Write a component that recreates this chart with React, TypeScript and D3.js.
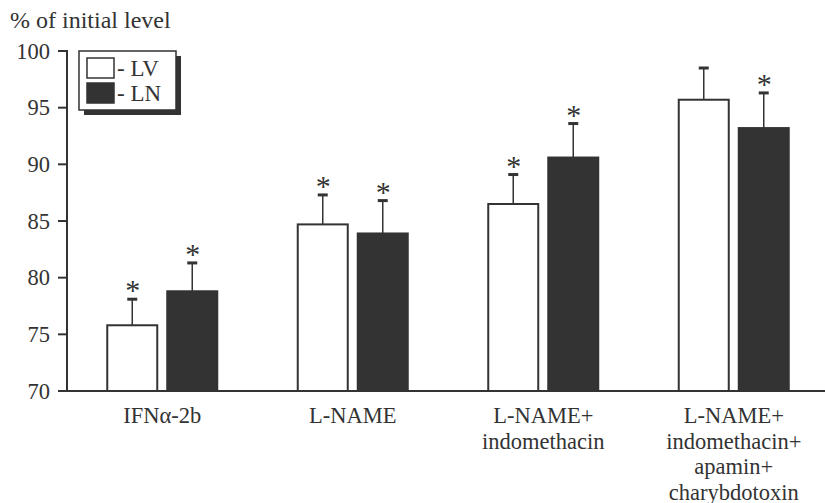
import React from 'react'
import * as d3 from 'd3'

const categories = ['IFNα-2b', 'L-NAME', 'L-NAME+ indomethacin', 'L-NAME+ indomethacin+ apamin+ charybdotoxin']
const labelLines = [['IFNα-2b'], ['L-NAME'], ['L-NAME+', 'indomethacin'], ['L-NAME+', 'indomethacin+', 'apamin+', 'charybdotoxin']]
const series = ['LV', 'LN']
const lvValues = [75.8, 84.7, 86.5, 95.7]
const lvErrors = [2.3, 2.6, 2.6, 2.8]
const lnValues = [78.8, 83.9, 90.6, 93.2]
const lnErrors = [2.5, 2.9, 3.0, 3.1]
const lvStar = [true, true, true, false]
const lnStar = [true, true, true, true]
const yTicks = [70, 75, 80, 85, 90, 95, 100]

const ink = '#333'
const font = "'Liberation Serif', 'Times New Roman', serif"

export default function App() {
  const width = 825,
    height = 503
  const x0 = 67,
    yTop = 51,
    yBottom = 391

  const y = d3.scaleLinear().domain([70, 100]).range([yBottom, yTop])
  const x = d3.scaleBand().domain(categories).range([x0, 829]).paddingInner(0).paddingOuter(0)
  const bw = 50,
    gap = 10

  const rows = categories.map((c, i) => [
    { key: 'LV', v: lvValues[i], e: lvErrors[i], star: lvStar[i], fill: '#fff' },
    { key: 'LN', v: lnValues[i], e: lnErrors[i], star: lnStar[i], fill: ink },
  ])

  return (
    <svg width={width} height={height} style={{ position: 'absolute', left: 0, top: 0, fontFamily: font }}>
      {/* y axis title */}
      <text x={10} y={28} fontSize={24} fill={ink}>
        % of initial level
      </text>

      {/* y axis */}
      <line x1={x0} x2={x0} y1={yTop - 1} y2={yBottom} stroke={ink} strokeWidth={2} />
      {yTicks.map(t => (
        <g key={t}>
          <line x1={x0 - 9} x2={x0} y1={y(t)} y2={y(t)} stroke={ink} strokeWidth={2} />
          <text x={50} y={y(t)} dy="0.34em" textAnchor="end" fontSize={22.5} fill={ink}>
            {t}
          </text>
        </g>
      ))}

      {/* bars */}
      {categories.map((c, i) => {
        const cx = (x(c) as number) + x.bandwidth() / 2
        return rows[i].map((d, j) => {
          const left = cx - gap / 2 - bw + j * (bw + gap)
          const mid = left + bw / 2
          const capY = y(d.v + d.e)
          return (
            <g key={c + d.key}>
              <line x1={mid} x2={mid} y1={y(d.v)} y2={capY} stroke={ink} strokeWidth={1.5} />
              <line x1={mid - 5} x2={mid + 5} y1={capY} y2={capY} stroke={ink} strokeWidth={3} />
              <rect x={left} y={y(d.v)} width={bw} height={yBottom - y(d.v)} fill={d.fill} stroke={ink} strokeWidth={2} />
              {d.star && (
                <text x={mid + 0.5} y={capY + 1} textAnchor="middle" fontSize={30} fill={ink}>
                  *
                </text>
              )}
            </g>
          )
        })
      })}

      {/* x axis */}
      <line x1={x0} x2={width} y1={yBottom} y2={yBottom} stroke={ink} strokeWidth={2} />
      {categories.map((c, i) => (
        <text key={c} textAnchor="middle" fontSize={22.5} fill={ink}>
          {labelLines[i].map((l, k) => (
            <tspan key={k} x={(x(c) as number) + x.bandwidth() / 2} y={423 + k * 25.7}>
              {l}
            </tspan>
          ))}
        </text>
      ))}

      {/* legend */}
      <rect x={84} y={56} width={97} height={59} fill={ink} />
      <rect x={79} y={51} width={97} height={59} fill="#fff" stroke={ink} strokeWidth={1.5} />
      {series.map((s, k) => (
        <g key={s}>
          <rect x={87} y={58 + k * 25} width={27} height={20} fill={k === 0 ? '#fff' : ink} stroke={ink} strokeWidth={1.5} />
          <text x={117} y={76 + k * 25} fontSize={23} fill={ink}>
            - {s}
          </text>
        </g>
      ))}
    </svg>
  )
}
